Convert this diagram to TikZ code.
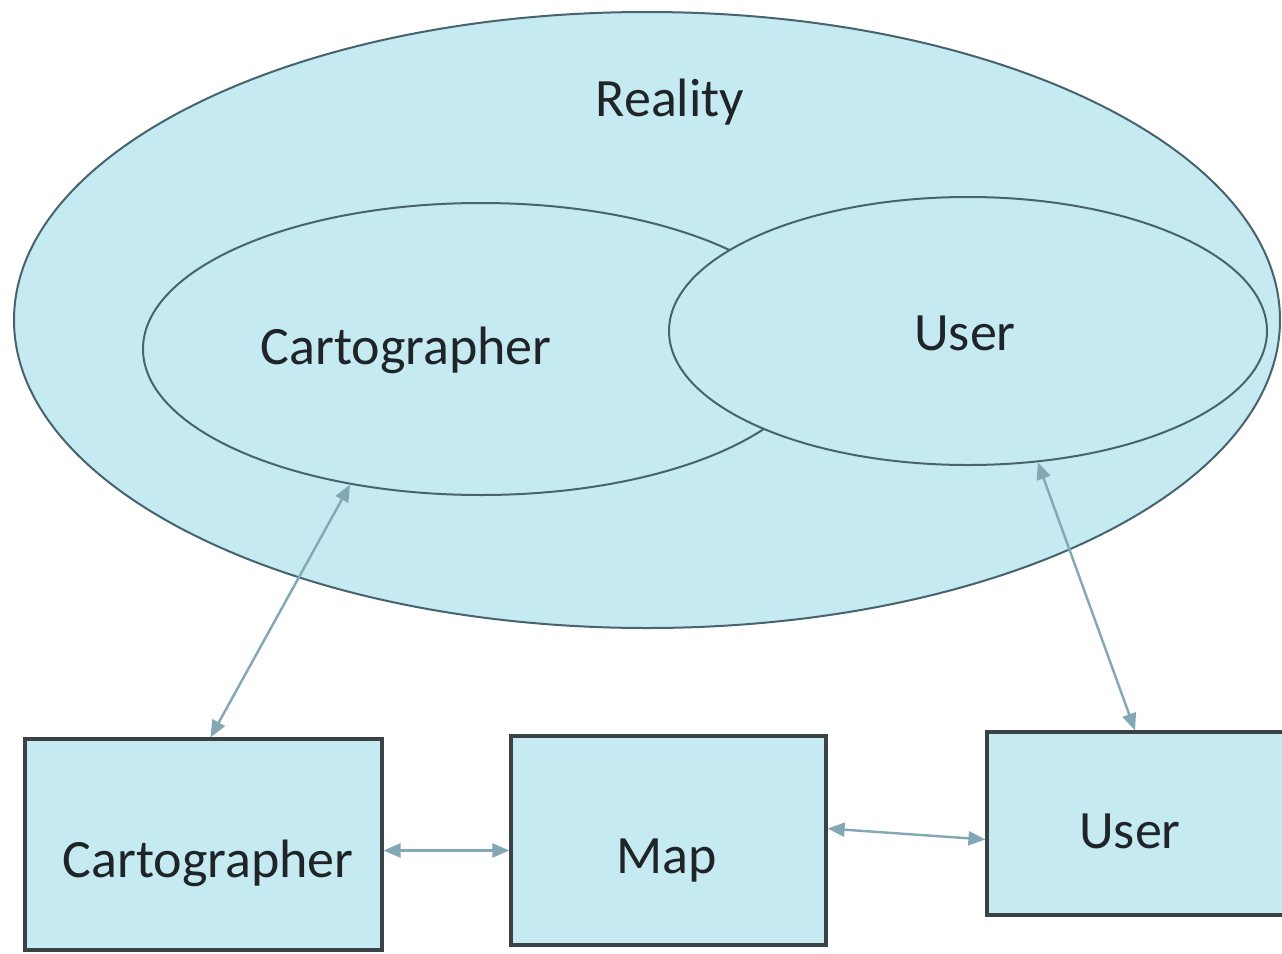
\documentclass[tikz,border=0pt]{standalone}
\usepackage{fontspec}
\setmainfont{Carlito}
\usetikzlibrary{shapes.geometric,arrows.meta,calc}
\definecolor{fillblue}{HTML}{C5EAF2}
\definecolor{edgeblue}{HTML}{46636E}
\definecolor{arrowblue}{HTML}{82A7B5}
\definecolor{boxedge}{HTML}{3A4246}
\definecolor{textdark}{HTML}{1E2428}
\begin{document}
\begin{tikzpicture}[x=1pt,y=-1pt,
  region/.style={ellipse, draw=edgeblue, fill=fillblue, line width=2pt, inner sep=0pt},
  txt/.style={font=\fontsize{54}{60}\selectfont, text=textdark, inner sep=0pt, anchor=base},
  actor/.style={rectangle, draw=boxedge, fill=fillblue, line width=3.2pt, inner sep=0pt},
  connector/.style={draw=arrowblue, line width=2.4pt,
    {Triangle[length=17pt,width=14pt]}-{Triangle[length=17pt,width=14pt]}}]
\useasboundingbox (0,0) rectangle (1282,953);
\clip (0,0) rectangle (1282,953);
\fill[white] (0,0) rectangle (1282,953);

% nested regions
\node[region, minimum width=1266pt, minimum height=616pt] (reality) at (647,320) {};
\node[region, minimum width=676pt, minimum height=292pt] (cartreg) at (481,349) {};
\node[region, minimum width=598pt, minimum height=268pt] (userreg) at (968,331) {};

\node[txt] (realitytxt) at (670,116) {Reality};
\node[txt] (carttxt) at (406,364) {Cartographer};
\node[txt] (usertxt) at (965,350) {User};

% participants
\node[actor, minimum width=357pt, minimum height=211pt] (cbox) at (203.5,844.5) {};
\node[actor, minimum width=315pt, minimum height=209pt] (mbox) at (668.5,840.5) {};
\node[actor, minimum width=308pt, minimum height=183pt] (ubox) at (1141,823.5) {};

\node[txt] (cboxtxt) at (208,877) {Cartographer};
\node[txt] (mboxtxt) at (667,873) {Map};
\node[txt] (uboxtxt) at (1130,848) {User};

% links
\draw[connector] ($(cbox.north)+(7,0)$) -- (cartreg.226);
\draw[connector] (userreg.298) -- ($(ubox.north)+(-6,0)$);
\draw[connector] ($(cbox.east)+(0,6)$) -- ($(mbox.west)+(0,10)$);
\draw[connector] ($(mbox.east)+(0,-12)$) -- ($(ubox.west)+(0,16)$);
\end{tikzpicture}
\end{document}
